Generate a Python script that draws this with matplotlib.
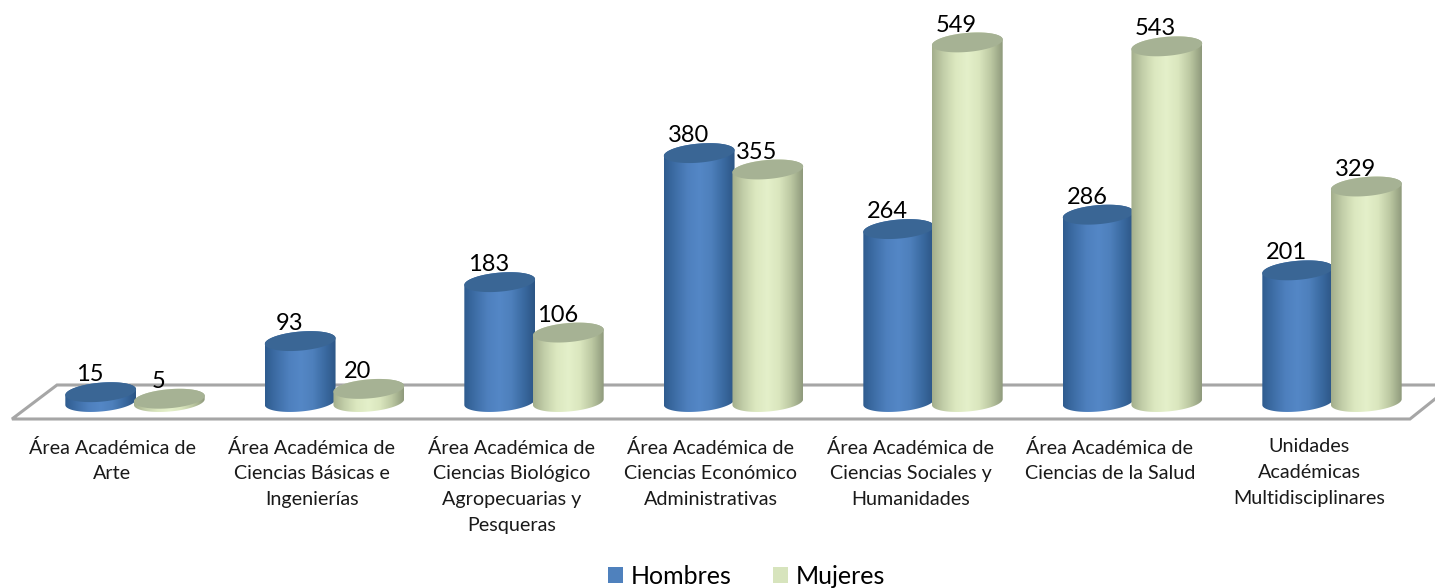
import numpy as np
import matplotlib
matplotlib.use('Agg')
import matplotlib.pyplot as plt
from matplotlib.colors import LinearSegmentedColormap
from matplotlib.patches import Patch, Polygon

categories = [
    'Área Académica de\nArte',
    'Área Académica de\nCiencias Básicas e\nIngenierías',
    'Área Académica de\nCiencias Biológico\nAgropecuarias y\nPesqueras',
    'Área Académica de\nCiencias Económico\nAdministrativas',
    'Área Académica de\nCiencias Sociales y\nHumanidades',
    'Área Académica de\nCiencias de la Salud',
    'Unidades\nAcadémicas\nMultidisciplinares',
]
hombres = [15, 93, 183, 380, 264, 286, 201]
mujeres = [5, 20, 106, 355, 549, 543, 329]

# scale of the picture: pixels per category and per unit of value
PX_X = 199.5
PX_Y = 0.655
X0_PX = 135
Y0_PX = 402

BAR_OFFSET = 0.172
RX_PX, RY_PX = 35.5, 9.5
TILT = np.radians(5)

blue_cmap = LinearSegmentedColormap.from_list(
    'blue', ['#2F5C8F', '#3F6FA8', '#4E80BE', '#5487C6', '#4E80BC', '#3B6BA2', '#2C5585'])
green_cmap = LinearSegmentedColormap.from_list(
    'green', ['#A3AE8C', '#C4D0AA', '#DCE8C0', '#E4F0CA', '#DAE6BE', '#BCC8A2', '#8F9A7C'])
BLUE_TOP = '#3A6695'
GREEN_TOP = '#A6B294'
FLOOR = '#A6A6A6'


def ellipse_points(xc, yc, t):
    """Tilted ellipse around (xc, yc) in data units; its radii are set in pixels."""
    dx = RX_PX * np.cos(t) * np.cos(TILT) - RY_PX * np.sin(t) * np.sin(TILT)
    dy = RX_PX * np.cos(t) * np.sin(TILT) + RY_PX * np.sin(t) * np.cos(TILT)
    return np.column_stack([xc + dx / PX_X, yc + dy / PX_Y])


def draw_cylinder(ax, xc, value, cmap, top_color):
    """Draws one cylinder with a shaded side and a flat top."""
    lower = ellipse_points(xc, 0, np.linspace(np.pi, 2 * np.pi, 60))
    upper = ellipse_points(xc, value, np.linspace(0, np.pi, 60))
    body = Polygon(np.vstack([lower, upper]), closed=True, transform=ax.transData)

    half = RX_PX / PX_X
    im = ax.imshow(np.linspace(0, 1, 128).reshape(1, -1), cmap=cmap, aspect='auto',
                   extent=[xc - half, xc + half, -30, value + 30], zorder=3)
    im.set_clip_path(body)

    top = ellipse_points(xc, value, np.linspace(0, 2 * np.pi, 120))
    ax.add_patch(Polygon(top, closed=True, facecolor=top_color, edgecolor='none', zorder=3))


def to_x(px):
    return (px - X0_PX) / PX_X


def to_y(px):
    return (Y0_PX - px) / PX_Y


def main():
    plt.rcParams['font.family'] = ['Lato', 'DejaVu Sans']
    fig = plt.figure(figsize=(14.35, 5.88), dpi=100)
    ax = fig.add_axes([0, 0, 1, 1])

    # floor of the 3D chart
    floor_x = [to_x(1435), to_x(57), to_x(12), to_x(1410), to_x(1435)]
    floor_y = [to_y(385), to_y(385), to_y(419), to_y(419), to_y(399)]
    ax.plot(floor_x, floor_y, color=FLOOR, lw=2.2, solid_joinstyle='miter', zorder=1)

    positions = np.arange(len(categories))
    for i in positions:
        draw_cylinder(ax, i - BAR_OFFSET, hombres[i], blue_cmap, BLUE_TOP)
        draw_cylinder(ax, i + BAR_OFFSET, mujeres[i], green_cmap, GREEN_TOP)

    for i in positions:
        for xc, value in ((i - BAR_OFFSET, hombres[i]), (i + BAR_OFFSET, mujeres[i])):
            ax.annotate(str(value), (xc, value), xytext=(-8, 12.5), textcoords='offset points',
                        ha='center', va='center', fontsize=17, color='black', zorder=5)
        # the labels sit a little left of their category
        ax.text(i - 0.113, to_y(438.5), categories[i], ha='center', va='top', fontsize=14.2,
                linespacing=1.62, color='#1a1a1a')

    handles = [Patch(facecolor='#4F81BD', label='Hombres'),
               Patch(facecolor='#D7E4BD', label='Mujeres')]
    ax.legend(handles=handles, loc='center', bbox_to_anchor=(746.5 / 1435, 1 - 576 / 588),
              ncol=2, frameon=False, fontsize=18, handlelength=0.6, handleheight=0.6,
              handletextpad=0.3, columnspacing=1.68, borderpad=0)

    ax.set_xlim(to_x(0), to_x(1435))
    ax.set_ylim(to_y(588), to_y(0))
    ax.axis('off')

    fig.savefig('out.png', dpi=100)


if __name__ == "__main__":
    main()
